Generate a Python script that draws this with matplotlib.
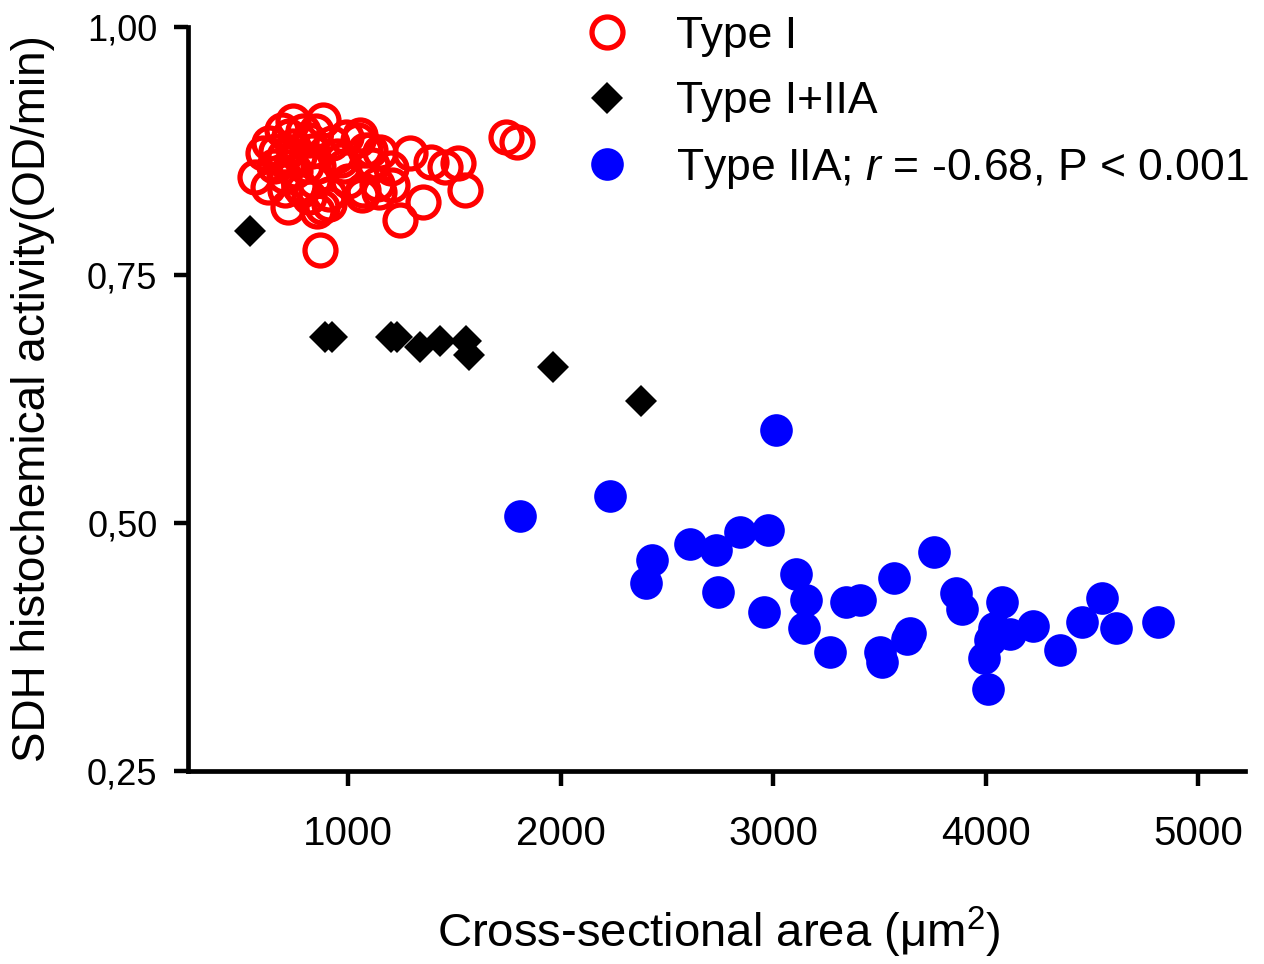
import matplotlib
matplotlib.use("Agg")
import matplotlib.pyplot as plt

plt.rcParams['font.family'] = ['Liberation Sans', 'DejaVu Sans']
plt.rcParams['mathtext.fontset'] = 'custom'
plt.rcParams['mathtext.rm'] = 'Liberation Sans'
plt.rcParams['mathtext.it'] = 'Liberation Sans:italic'

# ---- data ----
type1_x = [868, 1744, 1797, 1516, 1552, 1391, 1351, 1245, 1292, 1206,
           1151, 1056, 1072, 1135, 990, 884, 743, 562, 601, 625,
           719, 853, 876, 1066, 1144, 909, 815, 909, 705, 784,
           1458, 1045, 1104, 689, 627, 815, 925, 660, 700, 740,
           770, 800, 830, 860, 750, 700, 650, 790, 850, 950,
           980, 1000, 770, 840, 720, 1200, 967, 1080, 1113]
type1_y = [0.775, 0.889, 0.884, 0.863, 0.836, 0.864, 0.824, 0.805, 0.873, 0.841,
           0.874, 0.891, 0.836, 0.842, 0.889, 0.906, 0.905, 0.849, 0.873, 0.839,
           0.819, 0.815, 0.819, 0.831, 0.834, 0.822, 0.829, 0.832, 0.836, 0.836,
           0.859, 0.886, 0.876, 0.896, 0.883, 0.886, 0.883, 0.875, 0.870, 0.880,
           0.870, 0.860, 0.875, 0.860, 0.855, 0.850, 0.860, 0.895, 0.895, 0.870,
           0.860, 0.845, 0.840, 0.845, 0.890, 0.858, 0.866, 0.876, 0.861]

mixed_x = [539, 892, 923, 1202, 1229, 1340, 1434, 1557, 1568, 1963, 2377]
mixed_y = [0.794, 0.6875, 0.6875, 0.6875, 0.6875, 0.677, 0.683, 0.683, 0.669, 0.657, 0.623]

type2a_x = [1808, 2232, 3014, 2429, 2401, 2608, 2732, 2845, 2975, 2741,
            2958, 3108, 3155, 3146, 3268, 3344, 3409, 3504, 3514, 3569,
            3758, 3645, 3631, 3861, 3890, 4078, 4040, 4116, 4021, 3993,
            4013, 4222, 4352, 4456, 4550, 4615, 4813]
type2a_y = [0.507, 0.527, 0.5934, 0.4624, 0.440, 0.479, 0.4725, 0.491, 0.493, 0.430,
            0.410, 0.449, 0.422, 0.394, 0.370, 0.420, 0.422, 0.370, 0.360, 0.445,
            0.471, 0.389, 0.383, 0.429, 0.413, 0.420, 0.394, 0.388, 0.382, 0.364,
            0.333, 0.396, 0.372, 0.4005, 0.4244, 0.394, 0.4005]

xticks = [1000, 2000, 3000, 4000, 5000]
yticks = [0.25, 0.50, 0.75, 1.00]
ytick_labels = ['0,25', '0,50', '0,75', '1,00']

labels = ['Type I', 'Type I+IIA', 'Type IIA; $r$ = -0.68, P < 0.001']

# ---- figure ----
W, H = 1264, 964
fig = plt.figure(figsize=(W / 100, H / 100), dpi=100)
ax = fig.add_axes([188 / W, 1 - 771 / H, (1245 - 188) / W, 744 / H])

h1, = ax.plot(type1_x, type1_y, linestyle='none', marker='o', ms=22.3,
              mfc='none', mec='#ff0000', mew=3.8, zorder=3)
h2, = ax.plot(mixed_x, mixed_y, linestyle='none', marker='D', ms=16.5,
              mfc='black', mec='black', mew=0, zorder=4)
h3, = ax.plot(type2a_x, type2a_y, linestyle='none', marker='o', ms=23.5,
              mfc='#0000ff', mec='#0000ff', mew=0, zorder=5)

ax.set_xlim(247, 5221)
ax.set_ylim(0.25, 1.0)
ax.set_xticks(xticks)
ax.set_xticklabels([str(v) for v in xticks])
ax.set_yticks(yticks)
ax.set_yticklabels(ytick_labels)

for s in ['top', 'right']:
    ax.spines[s].set_visible(False)
for s in ['left', 'bottom']:
    ax.spines[s].set_linewidth(3.4)
ax.tick_params(axis='x', length=11, width=3.2, pad=21, labelsize=29)
ax.tick_params(axis='y', length=10, width=3.2, pad=12, labelsize=26)

ax.set_xlabel('Cross-sectional area (μm$^2$)', fontsize=34)
ax.xaxis.set_label_coords(0.502, -0.180)
ax.set_ylabel('SDH histochemical activity(OD/min)', fontsize=33)
ax.yaxis.set_label_coords(-0.126, 0.5)

leg = ax.legend([h1, h2, h3], labels, loc='upper left',
                bbox_to_anchor=(585 / W, 1 - 16 / H), bbox_transform=fig.transFigure,
                frameon=False, fontsize=32, borderpad=0, borderaxespad=0,
                handlelength=1.0, handletextpad=1.05, labelspacing=0.55,
                numpoints=1)

fig.savefig('out.png', dpi=100)
